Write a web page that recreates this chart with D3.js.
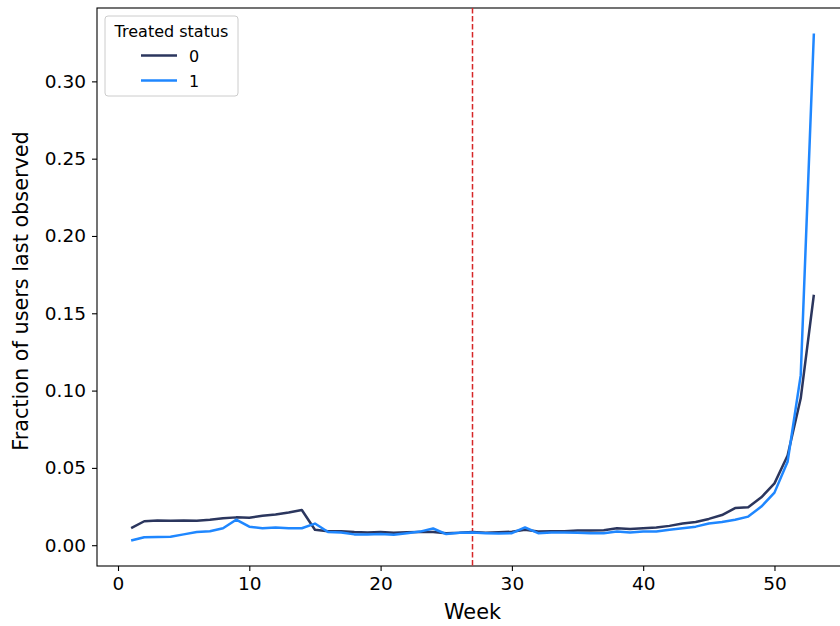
<!DOCTYPE html>
<html>
<head>
<meta charset="utf-8">
<script src="https://cdn.jsdelivr.net/npm/d3@7"></script>
<style>
  body { margin: 0; background: #fff; }
  svg text { font-family: "DejaVu Sans", sans-serif; }
</style>
</head>
<body>
<div id="chart"></div>
<script>
// weeks 1..53
const weeks = d3.range(1, 54);
const untreated = [0.011, 0.0155, 0.016, 0.0158, 0.016, 0.0158, 0.0165, 0.0175, 0.018, 0.0178,
  0.019, 0.0198, 0.0212, 0.0228, 0.010, 0.009, 0.009, 0.0085, 0.0082, 0.0085,
  0.008, 0.0083, 0.0085, 0.0085, 0.0078, 0.008, 0.0085, 0.008, 0.0083, 0.0087,
  0.010, 0.0088, 0.009, 0.009, 0.0095, 0.0095, 0.0097, 0.011, 0.0105, 0.011,
  0.0115, 0.0125, 0.014, 0.015, 0.017, 0.0195, 0.024, 0.0245, 0.031, 0.040,
  0.058, 0.095, 0.162];
const treated = [0.003, 0.0052, 0.0053, 0.0055, 0.007, 0.0085, 0.009, 0.011, 0.0165, 0.012,
  0.011, 0.0115, 0.011, 0.011, 0.014, 0.0085, 0.0082, 0.007, 0.007, 0.0072,
  0.0068, 0.0078, 0.0088, 0.0108, 0.0072, 0.008, 0.0082, 0.0078, 0.0075, 0.0078,
  0.0115, 0.0078, 0.0082, 0.0082, 0.008, 0.0078, 0.0078, 0.0088, 0.0082, 0.0088,
  0.0088, 0.010, 0.011, 0.012, 0.014, 0.015, 0.0165, 0.0185, 0.025, 0.034,
  0.054, 0.11, 0.331];
const seriesNames = ['0', '1'];
const seriesColors = ['#2b365e', '#1f87ff'];
const xTicks = [0, 10, 20, 30, 40, 50];
const yTicks = [0, 0.05, 0.10, 0.15, 0.20, 0.25, 0.30];
const cutoffWeek = 27;

const width = 840, height = 626;
const margin = { top: 8, right: -8, bottom: 60, left: 97 };
const w = width - margin.left - margin.right;
const h = height - margin.top - margin.bottom;

const svg = d3.select('#chart').append('svg')
  .attr('width', width).attr('height', height);
const g = svg.append('g').attr('transform', `translate(${margin.left},${margin.top})`);

const x = d3.scaleLinear().domain([-1.6, 55.6]).range([0, w]);
const y = d3.scaleLinear().domain([-0.01345, 0.34745]).range([h, 0]);

// frame
g.append('rect').attr('width', w).attr('height', h)
  .attr('fill', 'none').attr('stroke', '#000').attr('stroke-width', 1.1);

const xAxis = g.append('g').attr('transform', `translate(0,${h})`)
  .call(d3.axisBottom(x).tickValues(xTicks).tickSize(5).tickPadding(6).tickFormat(d3.format('d')));
const yAxis = g.append('g')
  .call(d3.axisLeft(y).tickValues(yTicks).tickSize(5).tickPadding(6).tickFormat(d3.format('.2f')));
[xAxis, yAxis].forEach(a => {
  a.select('.domain').remove();
  a.selectAll('text').attr('font-size', 18.5).attr('fill', '#000').style('font-family', '"DejaVu Sans", sans-serif');
  a.selectAll('line').attr('stroke', '#000').attr('stroke-width', 1.1);
});

g.append('text').attr('x', x(27)).attr('y', h + 53)
  .attr('text-anchor', 'middle').attr('font-size', 20.8).text('Week');
g.append('text').attr('transform', `translate(-69,${h / 2 + 4}) rotate(-90)`)
  .attr('text-anchor', 'middle').attr('font-size', 20.8).text('Fraction of users last observed');

// cutoff line
g.append('line')
  .attr('x1', x(cutoffWeek)).attr('x2', x(cutoffWeek))
  .attr('y1', 0).attr('y2', h)
  .attr('stroke', '#d62728').attr('stroke-width', 1.5).attr('stroke-dasharray', '5.5,2.5');

const line = d3.line().x((d, i) => x(weeks[i])).y(d => y(d));
[untreated, treated].forEach((s, i) => {
  g.append('path').datum(s)
    .attr('fill', 'none').attr('stroke', seriesColors[i])
    .attr('stroke-width', 2.5).attr('stroke-linejoin', 'round')
    .attr('d', line);
});

// legend
const lg = g.append('g').attr('transform', 'translate(8,8)');
lg.append('rect').attr('width', 133).attr('height', 80).attr('rx', 3)
  .attr('fill', '#fff').attr('fill-opacity', 0.8).attr('stroke', '#ccc');
lg.append('text').attr('x', 66.5).attr('y', 21).attr('text-anchor', 'middle')
  .attr('font-size', 16).text('Treated status');
seriesNames.forEach((n, i) => {
  const yy = 39.5 + i * 25;
  lg.append('line').attr('x1', 36).attr('x2', 72).attr('y1', yy).attr('y2', yy)
    .attr('stroke', seriesColors[i]).attr('stroke-width', 2.5);
  lg.append('text').attr('x', 84).attr('y', yy + 6).attr('font-size', 16).text(n);
});
</script>
</body>
</html>
